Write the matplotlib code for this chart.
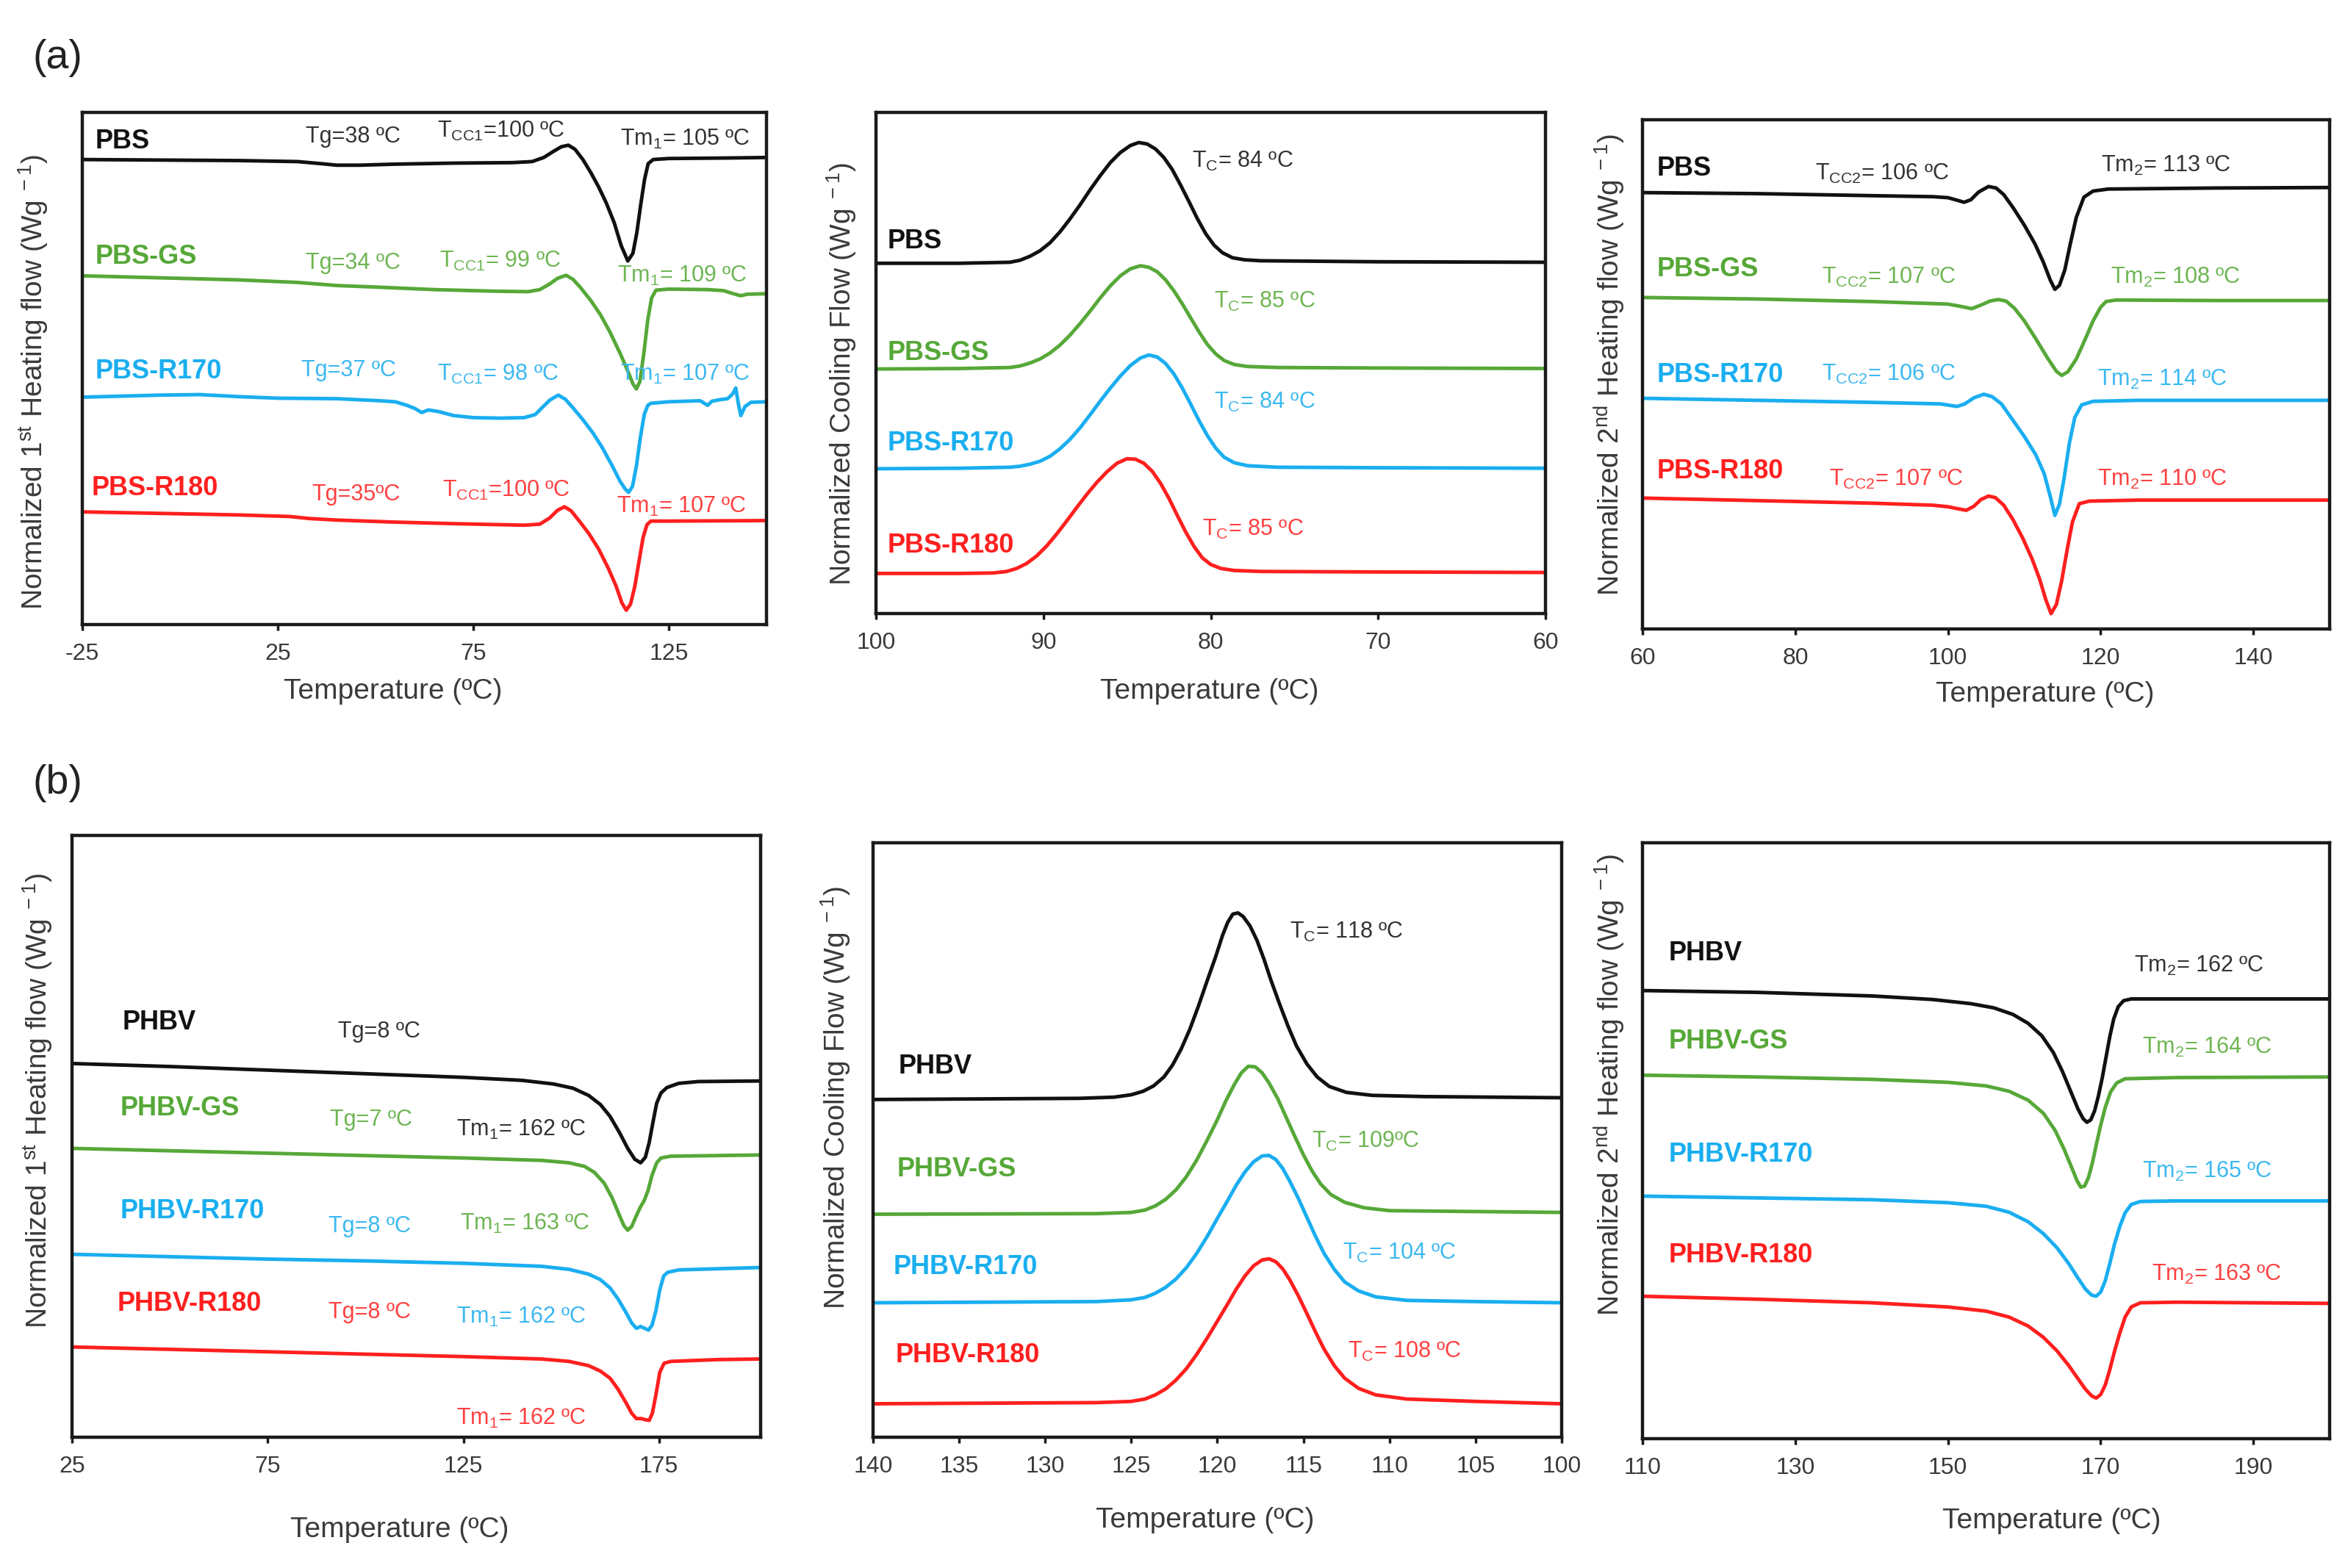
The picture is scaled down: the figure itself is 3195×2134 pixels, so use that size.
import matplotlib
matplotlib.use("Agg")
import matplotlib.pyplot as plt

plt.rcParams['font.family'] = ['Liberation Sans', 'DejaVu Sans']
plt.rcParams['mathtext.fontset'] = 'custom'
plt.rcParams['mathtext.rm'] = 'Liberation Sans'
plt.rcParams['mathtext.it'] = 'Liberation Sans:italic'
plt.rcParams['mathtext.bf'] = 'Liberation Sans:bold'
plt.rcParams['axes.unicode_minus'] = False

# ---------------- data (y in arbitrary normalized units 0-100) ----------------
# (a) PBS, 1st heating
h1_pbs_t = [-25, -5, 15, 30, 36, 40, 46, 55, 70, 85, 90, 93, 95.5, 97.5, 99.3, 101, 103, 105, 107, 109, 111,
            112.8, 114.5, 115.8, 116.8, 117.8, 118.8, 119.7, 121, 125, 140, 150]
h1_pbs_q = [90.8, 90.7, 90.6, 90.4, 90.0, 89.7, 89.7, 89.9, 90.1, 90.2, 90.4, 91.2, 92.4, 93.3, 93.6, 92.8, 90.8,
            88.3, 85.5, 82.3, 78.5, 74.0, 71.0, 72.5, 76.5, 82.0, 87.0, 90.0, 90.8, 91.0, 91.1, 91.2]
h1_gs_t = [-25, -5, 15, 30, 40, 50, 65, 80, 89, 92, 94.5, 96.5, 98.7, 100.5, 102.5, 105, 107.5, 110, 112.5,
           114.5, 115.8, 116.7, 117.6, 118.6, 119.6, 120.6, 121.7, 125, 135, 139, 141.5, 143.4, 145, 150]
h1_gs_q = [68.1, 67.7, 67.3, 66.8, 66.2, 65.9, 65.4, 65.1, 65.0, 65.4, 66.5, 67.6, 68.2, 67.4, 65.7, 63.3, 60.5,
           57.0, 53.0, 49.5, 47.0, 46.0, 47.5, 53.0, 59.5, 63.8, 65.3, 65.5, 65.4, 65.2, 64.6, 64.2, 64.5, 64.6]
h1_r170_t = [-25, -15, -5, 5, 15, 25, 40, 51, 55, 58, 60, 61.8, 63.5, 66, 70, 75, 82, 88, 90.8, 92.5, 94.5,
             96.7, 98.5, 100.5, 103, 105.5, 108, 110.5, 112.5, 113.8, 114.7, 115.7, 116.7, 117.7, 118.7, 119.6,
             120.4, 125, 133, 134.9, 136, 138, 140, 141.3, 142.1, 142.8, 143.4, 144.5, 146, 150]
h1_r170_q = [44.4, 44.6, 44.8, 44.9, 44.5, 44.2, 44.1, 43.7, 43.5, 42.8, 42.2, 41.4, 41.9, 41.6, 40.8, 40.4,
             40.3, 40.4, 41.0, 42.3, 43.8, 44.8, 44.0, 42.3, 40.0, 37.5, 34.5, 31.0, 28.0, 26.5, 25.8, 27.0,
             31.0, 36.5, 41.0, 42.8, 43.2, 43.5, 43.7, 42.8, 43.6, 43.9, 44.1, 45.0, 46.2, 43.0, 40.8, 42.6,
             43.4, 43.5]
h1_r180_t = [-25, -5, 15, 28, 33, 40, 55, 70, 88, 92, 94.5, 96.5, 98.3, 100, 102, 104.5, 107, 109.5, 111.5,
             113, 114.1, 115.2, 116.3, 117.4, 118.4, 119.4, 120.4, 125, 150]
h1_r180_q = [22.0, 21.7, 21.4, 21.1, 20.7, 20.4, 20.0, 19.7, 19.4, 19.6, 20.8, 22.3, 23.0, 22.2, 20.3, 17.8,
             14.8, 11.0, 7.5, 4.2, 2.8, 4.0, 7.5, 12.5, 17.0, 19.5, 20.2, 20.2, 20.3]

# (a) PBS, cooling
c_pbs_t = [100, 95, 92.0, 91.4, 90.8, 90.2, 89.6, 89.0, 88.4, 87.8, 87.2, 86.6, 86.0, 85.4, 84.8, 84.3, 83.8,
           83.3, 82.8, 82.3, 81.8, 81.3, 80.8, 80.3, 79.8, 79.3, 78.7, 78.0, 77.0, 70, 60]
c_pbs_q = [69.9, 69.9, 70.1, 70.5, 71.3, 72.4, 74.0, 76.2, 78.8, 81.6, 84.6, 87.4, 90.0, 92.0, 93.4, 94.0, 93.7,
           92.7, 91.0, 88.6, 85.5, 82.2, 78.8, 75.8, 73.5, 72.0, 71.0, 70.6, 70.4, 70.2, 70.1]
c_gs_t = [100, 95, 92.0, 91.4, 90.8, 90.2, 89.6, 89.0, 88.4, 87.8, 87.2, 86.6, 86.0, 85.4, 84.8, 84.2, 83.7,
          83.2, 82.7, 82.2, 81.7, 81.2, 80.7, 80.2, 79.7, 79.2, 78.6, 77.8, 76, 70, 60]
c_gs_q = [48.8, 48.9, 49.1, 49.4, 50.0, 50.8, 52.0, 53.6, 55.6, 57.9, 60.4, 63.0, 65.4, 67.4, 68.8, 69.4, 69.1,
          68.2, 66.6, 64.4, 61.8, 59.0, 56.2, 53.7, 51.8, 50.5, 49.7, 49.3, 49.1, 49.0, 48.9]
c_r170_t = [100, 95, 92.0, 91.4, 90.8, 90.2, 89.6, 89.0, 88.4, 87.8, 87.2, 86.6, 86.0, 85.4, 84.8, 84.2, 83.7,
            83.2, 82.7, 82.2, 81.7, 81.2, 80.7, 80.2, 79.7, 79.2, 78.6, 77.8, 76, 70, 60]
c_r170_q = [28.9, 29.0, 29.2, 29.4, 29.8, 30.4, 31.4, 32.9, 34.8, 37.1, 39.7, 42.4, 45.0, 47.4, 49.5, 51.0, 51.6,
            51.2, 49.9, 47.8, 45.0, 41.8, 38.5, 35.5, 33.0, 31.2, 30.1, 29.5, 29.2, 29.1, 29.0]
c_r180_t = [100, 95, 93.0, 92.2, 91.6, 91.0, 90.4, 89.8, 89.2, 88.6, 88.0, 87.4, 86.8, 86.2, 85.6, 85.0, 84.5,
            84.0, 83.5, 83.0, 82.5, 82.0, 81.5, 81.0, 80.5, 80.0, 79.4, 78.6, 77, 70, 60]
c_r180_q = [8.0, 8.0, 8.1, 8.4, 9.0, 10.0, 11.5, 13.5, 15.9, 18.5, 21.2, 23.8, 26.2, 28.3, 30.0, 30.9, 30.8,
            30.0, 28.4, 26.0, 23.0, 19.6, 16.3, 13.4, 11.1, 9.8, 9.0, 8.6, 8.4, 8.3, 8.2]

# (a) PBS, 2nd heating
h2_pbs_t = [60, 75, 90, 98, 100, 101.2, 102.1, 103.0, 104.0, 105.3, 106.3, 107.3, 108.5, 110, 111.4, 112.5,
            113.4, 114.0, 114.6, 115.3, 116.0, 116.8, 117.8, 119, 121, 135, 150]
h2_pbs_q = [85.7, 85.5, 85.1, 84.9, 84.7, 84.2, 83.8, 84.3, 85.8, 86.9, 86.6, 85.3, 82.8, 79.3, 75.6, 72.0, 68.5,
            66.7, 67.5, 70.5, 75.5, 80.8, 84.8, 86.0, 86.4, 86.6, 86.7]
h2_gs_t = [60, 75, 90, 100, 101.5, 103.1, 104.3, 105.5, 106.6, 107.6, 108.7, 110, 111.5, 113, 114.2, 114.9,
           115.7, 116.8, 118, 119, 120, 120.7, 122, 135, 150]
h2_gs_q = [65.1, 64.8, 64.3, 63.8, 63.4, 62.9, 63.6, 64.4, 64.7, 64.4, 63.0, 60.5, 57.0, 53.3, 50.6, 49.8, 50.5,
           53.0, 57.0, 60.5, 63.2, 64.3, 64.6, 64.5, 64.5]
h2_r170_t = [60, 75, 90, 99, 100.3, 101.2, 102.2, 103.4, 104.7, 105.8, 107, 108.5, 110, 111.5, 112.6, 113.4,
             114.0, 114.6, 115.2, 115.9, 116.6, 117.5, 119, 125, 150]
h2_r170_q = [45.3, 44.9, 44.5, 44.2, 43.9, 43.7, 44.2, 45.4, 46.1, 45.6, 44.2, 41.0, 37.8, 34.2, 30.5, 26.0,
             22.3, 24.5, 29.5, 36.5, 41.5, 44.0, 44.7, 44.9, 44.9]
h2_r180_t = [60, 75, 90, 98, 100, 101.3, 102.4, 103.4, 104.3, 105.3, 106.2, 107.3, 108.5, 109.8, 111, 112,
             112.8, 113.5, 114.2, 114.9, 115.6, 116.3, 117.2, 118.5, 125, 150]
h2_r180_q = [25.7, 25.2, 24.7, 24.3, 24.0, 23.6, 23.3, 24.1, 25.4, 26.1, 25.8, 24.3, 21.5, 17.8, 13.8, 9.8, 5.8,
             3.0, 4.8, 9.5, 15.5, 21.0, 24.6, 25.1, 25.3, 25.3]

# (b) PHBV, 1st heating
v1_phbv_t = [25, 50, 75, 100, 125, 140, 148, 153, 157, 160, 162.5, 165, 167, 168.8, 170.3, 171.5, 172.5, 173.5,
             174.4, 175.5, 177, 180, 185, 201]
v1_phbv_q = [62.1, 61.6, 61.0, 60.4, 59.8, 59.3, 58.7, 58.0, 56.8, 55.3, 53.3, 50.5, 48.0, 46.2, 45.6, 46.5,
             49.0, 52.5, 55.5, 57.2, 58.1, 58.8, 59.1, 59.2]
v1_gs_t = [25, 50, 75, 100, 125, 145, 152, 156, 158.5, 161, 163, 164.8, 166, 167, 168, 169, 170.2, 171.2,
           172.2, 173.2, 174.4, 175.5, 178, 201]
v1_gs_q = [48.0, 47.6, 47.2, 46.8, 46.4, 46.0, 45.6, 45.0, 44.0, 42.2, 39.8, 37.0, 35.2, 34.4, 35.0, 36.5, 38.2,
           39.3, 41.0, 43.5, 45.6, 46.4, 46.7, 46.9]
v1_r170_t = [25, 50, 75, 100, 125, 145, 152, 157, 160, 162.5, 164.5, 166.5, 168, 169.2, 170.3, 171.3, 172.3,
             173.2, 174.2, 175.2, 176.2, 177.2, 180, 190, 201]
v1_r170_q = [30.4, 30.0, 29.6, 29.3, 28.9, 28.4, 27.9, 27.1, 26.2, 24.8, 23.0, 20.8, 19.0, 18.1, 18.4, 18.1,
             17.8, 18.6, 21.0, 24.5, 26.8, 27.4, 27.8, 28.0, 28.2]
v1_r180_t = [25, 50, 75, 100, 125, 145, 152, 157, 160, 162.5, 164.5, 166.5, 168, 169.2, 170.5, 171.5, 172.5,
             173.3, 174.2, 175.2, 176.3, 178, 190, 201]
v1_r180_q = [15.0, 14.6, 14.2, 13.8, 13.4, 13.0, 12.6, 11.9, 11.0, 9.8, 8.0, 5.8, 4.0, 3.1, 3.1, 2.9, 2.8, 4.0,
             7.0, 10.8, 12.3, 12.6, 12.9, 13.0]

# (b) PHBV, cooling
vc_phbv_t = [140, 128, 126, 125, 124.3, 123.7, 123.1, 122.6, 122.1, 121.6, 121.1, 120.6, 120.1, 119.7, 119.4,
             119.1, 118.8, 118.5, 118.1, 117.7, 117.3, 116.9, 116.4, 115.9, 115.4, 114.8, 114.2, 113.5, 112.5,
             111, 108, 100]
vc_phbv_q = [56.8, 57.0, 57.2, 57.6, 58.2, 59.1, 60.6, 62.6, 65.3, 68.6, 72.5, 76.7, 80.8, 84.4, 86.6, 88.0,
             88.2, 87.6, 86.0, 83.6, 80.5, 77.0, 73.0, 69.2, 65.8, 62.8, 60.6, 59.0, 58.0, 57.5, 57.3, 57.1]
vc_gs_t = [140, 127, 125, 124.2, 123.6, 123.0, 122.4, 121.8, 121.2, 120.6, 120.0, 119.5, 119.0, 118.6, 118.2,
           117.8, 117.4, 117.0, 116.5, 116.0, 115.5, 115.0, 114.5, 114.0, 113.4, 112.6, 111.5, 110, 100]
vc_gs_q = [37.5, 37.6, 37.8, 38.2, 38.9, 40.0, 41.6, 43.8, 46.6, 49.9, 53.4, 56.6, 59.4, 61.3, 62.4, 62.3, 61.3,
           59.6, 57.0, 53.8, 50.6, 47.5, 44.8, 42.6, 40.8, 39.5, 38.6, 38.1, 37.8]
vc_r170_t = [140, 127, 125, 124.2, 123.6, 123.0, 122.4, 121.8, 121.2, 120.6, 120.0, 119.4, 118.9, 118.4, 117.9,
             117.4, 117.0, 116.6, 116.2, 115.8, 115.3, 114.8, 114.3, 113.8, 113.2, 112.6, 111.8, 110.8, 109,
             105, 100]
vc_r170_q = [22.6, 22.8, 23.1, 23.5, 24.2, 25.2, 26.6, 28.5, 30.9, 33.7, 36.8, 39.8, 42.4, 44.6, 46.3, 47.3,
             47.4, 46.7, 45.2, 43.1, 40.2, 37.0, 33.8, 30.9, 28.2, 26.1, 24.6, 23.6, 23.0, 22.8, 22.6]
vc_r180_t = [140, 127, 125, 124.2, 123.6, 123.0, 122.4, 121.8, 121.2, 120.6, 120.0, 119.4, 118.9, 118.4, 117.9,
             117.4, 117.0, 116.6, 116.2, 115.8, 115.3, 114.8, 114.3, 113.8, 113.2, 112.6, 111.8, 110.8, 109,
             105, 100]
vc_r180_q = [5.6, 5.8, 6.0, 6.4, 7.1, 8.1, 9.6, 11.5, 13.9, 16.6, 19.5, 22.4, 24.9, 27.1, 28.8, 29.8, 30.0,
             29.5, 28.3, 26.5, 23.8, 20.8, 17.7, 14.8, 12.0, 9.9, 8.2, 7.1, 6.4, 6.0, 5.6]

# (b) PHBV, 2nd heating
v2_phbv_t = [110, 125, 140, 148, 153, 156, 158.5, 160.5, 162.3, 163.8, 165.0, 166.1, 167.0, 167.7, 168.2, 168.7,
             169.2, 169.7, 170.2, 170.7, 171.2, 171.7, 172.3, 173.0, 174, 180, 200]
v2_phbv_q = [75.2, 74.9, 74.3, 73.7, 73.0, 72.3, 71.2, 69.7, 67.6, 64.8, 61.6, 58.2, 55.4, 53.7, 53.1, 53.5,
             55.0, 57.5, 60.5, 64.0, 67.5, 70.4, 72.5, 73.5, 73.8, 73.8, 73.8]
v2_gs_t = [110, 125, 140, 150, 155, 158, 160.5, 162.5, 164.0, 165.2, 166.2, 166.9, 167.4, 167.9, 168.4, 168.9,
           169.4, 170.0, 170.6, 171.3, 172.1, 173.2, 180, 200]
v2_gs_q = [61.0, 60.7, 60.3, 59.8, 59.2, 58.3, 56.8, 54.6, 51.8, 48.6, 45.5, 43.3, 42.2, 42.4, 43.8, 46.2, 49.2,
           52.6, 55.6, 58.2, 59.7, 60.4, 60.6, 60.7]
v2_r170_t = [110, 125, 140, 150, 155, 158, 160.5, 162.5, 164.3, 165.8, 167.0, 168.0, 168.8, 169.4, 170.0, 170.6,
             171.2, 171.8, 172.5, 173.2, 174.0, 175.2, 180, 200]
v2_r170_q = [40.7, 40.4, 40.1, 39.6, 39.0, 38.0, 36.4, 34.4, 32.0, 29.4, 27.0, 25.1, 24.1, 23.9, 24.6, 26.5,
             29.4, 32.6, 35.6, 37.9, 39.3, 39.8, 39.9, 39.9]
v2_r180_t = [110, 125, 140, 150, 155, 158, 160.5, 162.5, 164.3, 165.8, 167.0, 168.0, 168.8, 169.4, 170.0, 170.6,
             171.2, 171.8, 172.5, 173.2, 174.0, 175.2, 180, 200]
v2_r180_q = [23.9, 23.4, 22.8, 22.1, 21.4, 20.4, 18.9, 17.0, 14.7, 12.3, 10.1, 8.3, 7.2, 6.8, 7.4, 9.0, 11.6,
             14.6, 17.7, 20.4, 22.1, 22.8, 22.9, 22.7]

pbs_names = ['PBS', 'PBS-GS', 'PBS-R170', 'PBS-R180']
phbv_names = ['PHBV', 'PHBV-GS', 'PHBV-R170', 'PHBV-R180']

# ---------------- styling ----------------
BLACK, GREEN, BLUE, RED = '#111111', '#56a838', '#1aaef0', '#ff1f1f'
TXT = {BLACK: '#333333', GREEN: '#6db552', BLUE: '#3bb8f0', RED: '#ff4040'}
colors = [BLACK, GREEN, BLUE, RED]
DEG = '\u00baC'
TICK_FONT = ['Liberation Sans Narrow', 'Liberation Sans', 'DejaVu Sans']

fig = plt.figure(figsize=(31.95, 21.34), dpi=100)


def panel(rect, curves, xlim, xticks, ylabel, names, name_pos, notes, xl_pos, yl_pos):
    ax = fig.add_axes(rect)
    for (t, q), c in zip(curves, colors):
        ax.plot(t, q, color=c, lw=3.5, solid_joinstyle='round', solid_capstyle='round')
    ax.set_xlim(*xlim)
    ax.set_ylim(0, 100)
    ax.set_xticks(xticks)
    ax.set_yticks([])
    ax.tick_params(axis='x', direction='out', length=6, width=2.5, pad=12, color='#1a1a1a')
    for lab in ax.get_xticklabels():
        lab.set_fontfamily(TICK_FONT)
        lab.set_fontsize(23)
        lab.set_color('#3a3a3a')
    for s in ax.spines.values():
        s.set_linewidth(3.2)
        s.set_color('#1a1a1a')
    for name, (x, y), c in zip(names, name_pos, colors):
        ax.text(x, y, name, color=c, fontsize=26, fontweight='bold', ha='left', va='center')
    for txt, x, y, c in notes:
        ax.text(x, y, txt, color=TXT[c], fontsize=22, ha='left', va='center')
    ax.set_xlabel('Temperature (' + DEG + ')', fontsize=28, color='#3a3a3a')
    ax.xaxis.set_label_coords(*xl_pos)
    ax.xaxis.label.set_va('center')
    ax.set_ylabel(ylabel, fontsize=28, color='#3a3a3a')
    ax.yaxis.set_label_coords(*yl_pos)
    ax.yaxis.label.set_va('center')
    return ax


yl_h1 = 'Normalized 1$^{\\rm st}$ Heating flow (Wg$^{\\ -1}$)'
yl_c = 'Normalized Cooling Flow (Wg$^{\\ -1}$)'
yl_h2 = 'Normalized 2$^{\\rm nd}$ Heating flow (Wg$^{\\ -1}$)'
tcc1 = 'T$_{\\rm CC1}$'
tcc2 = 'T$_{\\rm CC2}$'
tc = 'T$_{\\rm C}$'
tm1 = 'Tm$_{1}$'
tm2 = 'Tm$_{2}$'

# (a) row
panel([0.0351, 0.6017, 0.2914, 0.3266],
      [(h1_pbs_t, h1_pbs_q), (h1_gs_t, h1_gs_q), (h1_r170_t, h1_r170_q), (h1_r180_t, h1_r180_q)],
      (-25, 150), [-25, 25, 75, 125], yl_h1, pbs_names,
      [(-21.7, 94.4), (-21.7, 71.8), (-21.7, 49.4), (-22.6, 26.6)],
      [('Tg=38 ' + DEG, 32.2, 95.2, BLACK), (tcc1 + '=100 ' + DEG, 65.8, 96.4, BLACK),
       (tm1 + '= 105 ' + DEG, 112.5, 94.8, BLACK),
       ('Tg=34 ' + DEG, 32.2, 70.6, GREEN), (tcc1 + '= 99 ' + DEG, 66.4, 71.0, GREEN),
       (tm1 + '= 109 ' + DEG, 111.8, 68.1, GREEN),
       ('Tg=37 ' + DEG, 30.9, 49.6, BLUE), (tcc1 + '= 98 ' + DEG, 65.8, 48.8, BLUE),
       (tm1 + '= 107 ' + DEG, 112.5, 48.8, BLUE),
       ('Tg=35' + DEG, 33.6, 25.4, RED), (tcc1 + '=100 ' + DEG, 67.1, 26.2, RED),
       (tm1 + '= 107 ' + DEG, 111.6, 23.0, RED)],
      (0.454, -0.131), (-0.072, 0.473))

panel([0.3731, 0.6087, 0.2851, 0.3196],
      [(c_pbs_t, c_pbs_q), (c_gs_t, c_gs_q), (c_r170_t, c_r170_q), (c_r180_t, c_r180_q)],
      (100, 60), [100, 90, 80, 70, 60], yl_c, pbs_names,
      [(99.3, 74.2), (99.3, 52.0), (99.3, 34.0), (99.3, 13.5)],
      [(tc + '= 84 ' + DEG, 81.1, 90.2, BLACK), (tc + '= 85 ' + DEG, 79.8, 62.3, GREEN),
       (tc + '= 84 ' + DEG, 79.8, 42.2, BLUE), (tc + '= 85 ' + DEG, 80.5, 16.8, RED)],
      (0.498, -0.155), (-0.052, 0.478))

panel([0.6996, 0.5989, 0.2926, 0.3247],
      [(h2_pbs_t, h2_pbs_q), (h2_gs_t, h2_gs_q), (h2_r170_t, h2_r170_q), (h2_r180_t, h2_r180_q)],
      (60, 150), [60, 80, 100, 120, 140], yl_h2, pbs_names,
      [(61.9, 90.4), (61.9, 70.6), (61.9, 49.8), (61.9, 31.0)],
      [(tcc2 + '= 106 ' + DEG, 82.6, 89.4, BLACK), (tm2 + '= 113 ' + DEG, 120.1, 91.0, BLACK),
       (tcc2 + '= 107 ' + DEG, 83.5, 69.0, GREEN), (tm2 + '= 108 ' + DEG, 121.3, 69.0, GREEN),
       (tcc2 + '= 106 ' + DEG, 83.5, 50.0, BLUE), (tm2 + '= 114 ' + DEG, 119.6, 49.0, BLUE),
       (tcc2 + '= 107 ' + DEG, 84.4, 29.4, RED), (tm2 + '= 110 ' + DEG, 119.6, 29.4, RED)],
      (0.586, -0.128), (-0.048, 0.519))

# (b) row
panel([0.0307, 0.0834, 0.2933, 0.3838],
      [(v1_phbv_t, v1_phbv_q), (v1_gs_t, v1_gs_q), (v1_r170_t, v1_r170_q), (v1_r180_t, v1_r180_q)],
      (25, 201), [25, 75, 125, 175], yl_h1, phbv_names,
      [(37.9, 68.9), (37.3, 54.6), (37.3, 37.6), (36.6, 22.2)],
      [('Tg=8 ' + DEG, 92.9, 67.4, BLACK), ('Tg=7 ' + DEG, 91.0, 52.7, GREEN),
       (tm1 + '= 162 ' + DEG, 123.3, 51.1, BLACK),
       ('Tg=8 ' + DEG, 90.6, 35.1, BLUE), (tm1 + '= 163 ' + DEG, 124.2, 35.5, GREEN),
       ('Tg=8 ' + DEG, 90.6, 20.7, RED), (tm1 + '= 162 ' + DEG, 123.3, 20.0, BLUE),
       (tm1 + '= 162 ' + DEG, 123.3, 3.1, RED)],
      (0.475, -0.154), (-0.050, 0.559))

panel([0.3718, 0.0835, 0.2933, 0.3790],
      [(vc_phbv_t, vc_phbv_q), (vc_gs_t, vc_gs_q), (vc_r170_t, vc_r170_q), (vc_r180_t, vc_r180_q)],
      (140, 100), [140, 135, 130, 125, 120, 115, 110, 105, 100], yl_c, phbv_names,
      [(138.5, 62.4), (138.6, 45.0), (138.8, 28.6), (138.7, 13.8)],
      [(tc + '= 118 ' + DEG, 115.8, 85.0, BLACK), (tc + '= 109' + DEG, 114.5, 49.7, GREEN),
       (tc + '= 104 ' + DEG, 112.7, 31.0, BLUE), (tc + '= 108 ' + DEG, 112.4, 14.4, RED)],
      (0.482, -0.140), (-0.054, 0.571))

panel([0.6996, 0.0825, 0.2926, 0.3800],
      [(v2_phbv_t, v2_phbv_q), (v2_gs_t, v2_gs_q), (v2_r170_t, v2_r170_q), (v2_r180_t, v2_r180_q)],
      (110, 200), [110, 130, 150, 170, 190], yl_h2, phbv_names,
      [(113.4, 81.5), (113.4, 66.6), (113.4, 47.7), (113.4, 30.7)],
      [(tm2 + '= 162 ' + DEG, 174.4, 79.3, BLACK), (tm2 + '= 164 ' + DEG, 175.4, 65.7, GREEN),
       (tm2 + '= 165 ' + DEG, 175.4, 44.8, BLUE), (tm2 + '= 163 ' + DEG, 176.7, 27.6, RED)],
      (0.595, -0.138), (-0.048, 0.594))

fig.text(0.014, 1 - 79 / 2134, '(a)', fontsize=40, color='#222222', ha='left', va='center')
fig.text(0.014, 1 - 1066 / 2134, '(b)', fontsize=40, color='#222222', ha='left', va='center')

fig.savefig('out.png', dpi=100)
